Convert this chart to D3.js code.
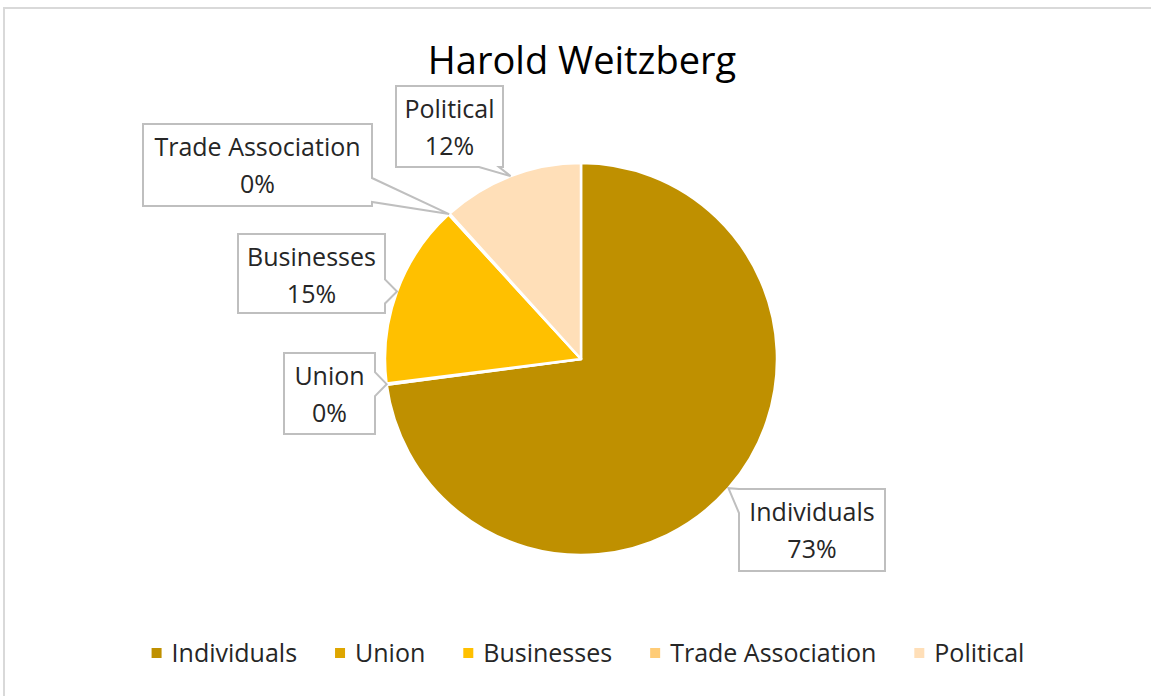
<!DOCTYPE html>
<html>
<head>
<meta charset="utf-8">
<script src="https://cdn.jsdelivr.net/npm/d3@7"></script>
<style>
  body { margin: 0; background: #fff; }
  svg { display: block; font-family: "Open Sans", sans-serif; }
</style>
</head>
<body>
<div id="chart"></div>
<script>
// data
var title = "Harold Weitzberg";
var categories = ["Individuals", "Union", "Businesses", "Trade Association", "Political"];
var values = [72.9, 0.1, 15.2, 0.1, 11.7];
var colors = ["#BF9000", "#DEA600", "#FFC000", "#FFCC77", "#FFDFB8"];

// label box placement (left, top, width, height of each callout box)
var labelBoxes = {
    "Individuals": [739, 489, 146, 82],
    "Union": [284, 353, 91, 81],
    "Businesses": [238, 234, 147, 79],
    "Trade Association": [143, 124, 229, 82],
    "Political": [396, 86, 107, 81]
};

var width = 1151, height = 696;
var cx = 581, cy = 359, radius = 196;

var svg = d3.select("#chart")
    .append("svg")
    .attr("width", width)
    .attr("height", height);

// chart frame
svg.append("rect")
    .attr("x", 4)
    .attr("y", 8)
    .attr("width", 1180)
    .attr("height", 720)
    .attr("fill", "#fff")
    .attr("stroke", "#d9d9d9")
    .attr("stroke-width", 2);

svg.append("text")
    .attr("x", 582)
    .attr("y", 74)
    .attr("text-anchor", "middle")
    .style("font-size", "38px")
    .attr("fill", "#000")
    .text(title);

var data = categories.map(function(c, i) {
    return { name: c, value: values[i], color: colors[i] };
});

var pie = d3.pie()
    .sort(null)
    .value(function(d) { return d.value; });

var arc = d3.arc()
    .innerRadius(0)
    .outerRadius(radius);

var arcs = pie(data);
var total = d3.sum(values);

var g = svg.append("g")
    .attr("transform", "translate(" + cx + "," + cy + ")");

g.selectAll("path.slice")
    .data(arcs)
    .enter()
    .append("path")
    .attr("class", "slice")
    .attr("d", arc)
    .attr("fill", function(d) { return d.data.color; })
    .attr("stroke", "#fff")
    .attr("stroke-width", 2.5)
    .attr("stroke-linejoin", "round");

// callout shape: box with a pointer going to the tip
function calloutPath(b, tip) {
    var x0 = b[0], y0 = b[1], x1 = b[0] + b[2], y1 = b[1] + b[3];
    var tx = tip[0], ty = tip[1];
    var outX = tx < x0 ? x0 - tx : (tx > x1 ? tx - x1 : 0);
    var outY = ty < y0 ? y0 - ty : (ty > y1 ? ty - y1 : 0);
    var half = 12;
    var pts;
    if (outX >= outY) {
        // pointer on left or right edge
        var c = Math.max(y0 + half, Math.min(y1 - half - 4, ty));
        if (tx > x1) {
            pts = [[x0, y0], [x1, y0], [x1, c - half], [tx, ty], [x1, c + half], [x1, y1], [x0, y1]];
        } else {
            c = Math.max(y0, Math.min(y1 - 2 * half, ty));
            pts = [[x0, y0], [x1, y0], [x1, y1], [x0, y1], [x0, c + 2 * half], [tx, ty], [x0, c]];
        }
    } else {
        var cxp = Math.max(x0 + half, Math.min(x1 - half, tx));
        if (ty > y1) {
            cxp = Math.min(x1 - half + 4, cxp);
            pts = [[x0, y0], [x1, y0], [x1, y1], [cxp + half - 4, y1], [tx, ty], [cxp - half, y1], [x0, y1]];
        } else {
            pts = [[x0, y0], [cxp - half, y0], [tx, ty], [cxp + half, y0], [x1, y0], [x1, y1], [x0, y1]];
        }
    }
    return "M" + pts.map(function(p) { return p.join(","); }).join("L") + "Z";
}

var labels = svg.append("g").attr("class", "labels");

arcs.forEach(function(d) {
    var mid = (d.startAngle + d.endAngle) / 2;
    var tip = [cx + Math.sin(mid) * radius, cy - Math.cos(mid) * radius];
    var b = labelBoxes[d.data.name];
    var lg = labels.append("g");
    lg.append("path")
        .attr("d", calloutPath(b, tip))
        .attr("fill", "#fff")
        .attr("stroke", "#bfbfbf")
        .attr("stroke-width", 2)
        .attr("stroke-linejoin", "miter");
    var t = lg.append("text")
        .attr("text-anchor", "middle")
        .style("font-size", "25px")
        .attr("fill", "#262626");
    t.append("tspan")
        .attr("x", b[0] + b[2] / 2)
        .attr("y", b[1] + 32)
        .text(d.data.name);
    t.append("tspan")
        .attr("x", b[0] + b[2] / 2)
        .attr("y", b[1] + 69)
        .text(Math.round(d.data.value / total * 100) + "%");
});

// legend
var legend = svg.append("g").attr("class", "legend");
var legendY = 653;
var items = legend.selectAll("g.item")
    .data(data)
    .enter()
    .append("g")
    .attr("class", "item");

items.append("rect")
    .attr("width", 10)
    .attr("height", 10)
    .attr("y", legendY - 5)
    .attr("fill", function(d) { return d.color; });

items.append("text")
    .attr("x", 20)
    .attr("y", legendY + 9)
    .style("font-size", "25px")
    .attr("fill", "#262626")
    .text(function(d) { return d.name; });

var xPos = 0, gap = 38, offsets = [];
items.each(function() {
    offsets.push(xPos);
    xPos += 20 + d3.select(this).select("text").node().getComputedTextLength() + gap;
});
var legendWidth = xPos - gap;
var startX = 588 - legendWidth / 2;
items.attr("transform", function(d, i) {
    return "translate(" + (startX + offsets[i]) + ",0)";
});
</script>
</body>
</html>
